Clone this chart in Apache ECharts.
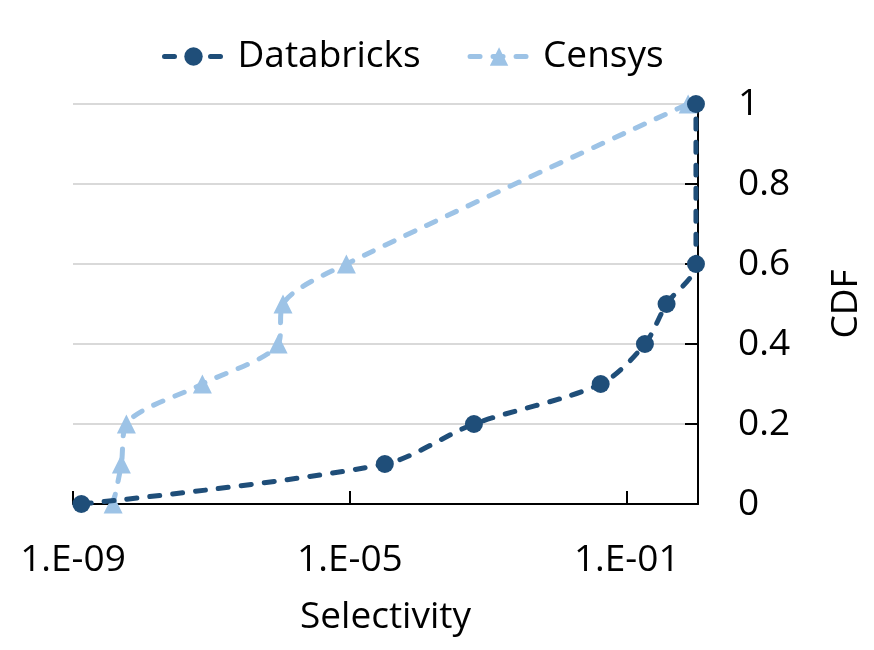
<!DOCTYPE html>
<html><head><meta charset="utf-8">
<script src="https://cdn.jsdelivr.net/npm/echarts@6/dist/echarts.min.js"></script>
<style>html,body{margin:0;padding:0;background:#fff}#c{width:874px;height:650px}</style>
</head><body><div id="c"></div>
<script>
const seriesNames = ['Databricks', 'Censys'];
const databricksX = [1.32e-9, 3.2e-5, 6.2e-4, 0.042, 0.183, 0.376, 1, 1];
const databricksY = [0, 0.1, 0.2, 0.3, 0.4, 0.5, 0.6, 1];
const censysX = [3.8e-9, 5.0e-9, 5.9e-9, 7.4e-8, 9.2e-7, 1.08e-6, 8.9e-6, 0.77];
const censysY = [0, 0.1, 0.2, 0.3, 0.4, 0.5, 0.6, 1];
const xAxisMin = 1e-9, xAxisMax = 1.07;
const yTickLabels = ['0', '0.2', '0.4', '0.6', '0.8', '1'];

const pairs = (xs, ys) => xs.map((x, i) => [x, ys[i]]);
const FONT = 'Open Sans';
const FS = 37;
const chart = echarts.init(document.getElementById('c'), null, {renderer: 'canvas'});
chart.setOption({
  animation: false,
  textStyle: {fontFamily: FONT},
  legend: {
    left: 157, top: 33, itemWidth: 58, itemHeight: 23, itemGap: 47,
    textStyle: {fontSize: FS, color: '#000', fontFamily: FONT, padding: [0, 0, 0, 10]},
    lineStyle: {width: 5, type: [10, 13], cap: 'round'},
    data: seriesNames
  },
  grid: {left: 73, right: 176, top: 104, bottom: 146, containLabel: false},
  xAxis: {
    type: 'log', logBase: 10, min: xAxisMin, max: xAxisMax, interval: 4,
    name: 'Selectivity', nameLocation: 'middle', nameGap: 95,
    nameTextStyle: {fontSize: FS, color: '#000', fontFamily: FONT},
    axisLine: {show: true, lineStyle: {color: '#000', width: 2}},
    axisTick: {show: true, inside: true, length: 13, lineStyle: {color: '#000', width: 2}},
    axisLabel: {
      fontSize: FS, color: '#000', margin: 38, showMaxLabel: false,
      formatter: v => {
        const e = Math.round(Math.log10(v));
        const s = Math.abs(e).toString().padStart(2, '0');
        return '1.E' + (e < 0 ? '-' : '+') + s;
      }
    },
    splitLine: {show: false},
    minorTick: {show: false}
  },
  yAxis: {
    type: 'value', position: 'right', min: 0, max: 1, interval: 0.2,
    name: 'CDF', nameLocation: 'middle', nameGap: 130, nameRotate: 90,
    nameTextStyle: {fontSize: FS, color: '#000', fontFamily: FONT},
    axisLine: {show: true, lineStyle: {color: '#000', width: 2}},
    axisTick: {show: true, inside: true, length: 13, lineStyle: {color: '#000', width: 2}},
    axisLabel: {
      fontSize: FS, color: '#000', margin: 40,
      formatter: (v) => yTickLabels[Math.round(v / 0.2)]
    },
    splitLine: {show: true, lineStyle: {color: '#d9d9d9', width: 2}}
  },
  series: [
    {
      name: seriesNames[0], type: 'line', data: pairs(databricksX, databricksY),
      smooth: 0.3, symbol: 'circle', symbolSize: 18, clip: false,
      itemStyle: {color: '#1f4e79'},
      lineStyle: {color: '#1f4e79', width: 5, type: [10, 13], cap: 'round'},
      z: 3
    },
    {
      name: seriesNames[1], type: 'line', data: pairs(censysX, censysY),
      smooth: 0.3, symbol: 'triangle', symbolSize: 19, clip: false,
      itemStyle: {color: '#9dc3e6'},
      lineStyle: {color: '#9dc3e6', width: 5, type: [10, 13], cap: 'round'},
      z: 2
    }
  ]
});
</script></body></html>
